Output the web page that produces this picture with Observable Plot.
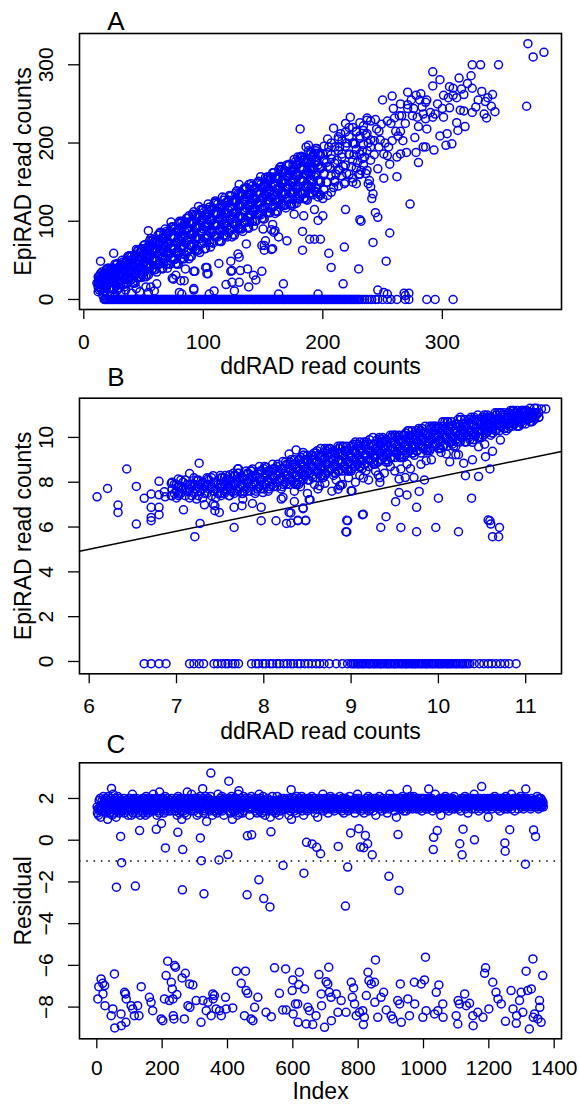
<!DOCTYPE html>
<html><head><meta charset="utf-8">
<script src="https://cdn.jsdelivr.net/npm/d3@7"></script>
<script src="https://cdn.jsdelivr.net/npm/@observablehq/plot@0.6"></script>
<style>
body{margin:0;background:#fff;}
#chart{width:579px;background:#fff;}
#chart svg{display:block;overflow:visible;}
</style></head><body><div id="chart"></div>
<script>
// ---------------- Panel A: raw read counts ----------------
// dense core of the band: [ddRAD count, [EpiRAD counts at that ddRAD count]]
const denseA = [
[12,[10,16,22,29]],[15,[13,21,28,35]],[18,[10,17,25,33]],[21,[14,23,31,40]],[24,[14,22,31,40]],[27,[18,27,36,44]],
[30,[15,23,32,41]],[33,[19,29,38,48]],[36,[20,29,40,50]],[39,[25,36,46,56]],[42,[21,32,42,54]],[45,[28,40,50,62]],
[48,[28,39,51,64]],[51,[36,48,59,70]],[54,[31,43,54,67]],[57,[38,51,63,76]],[60,[38,50,63,76]],[63,[45,58,71,84]],
[66,[39,52,64,78]],[69,[45,60,73,87]],[72,[45,58,72,87]],[75,[51,66,80,93]],[78,[45,59,72,87]],[81,[52,67,81,97]],
[84,[52,66,82,97]],[87,[61,76,90,104]],[90,[55,69,83,99]],[93,[63,78,92,108]],[96,[63,77,93,108]],[99,[71,86,100,114]],
[102,[65,79,93,109]],[105,[73,88,102,118]],[108,[72,86,102,117]],[111,[81,96,110,124]],[114,[74,88,102,118]],[117,[82,97,111,127]],
[120,[80,94,110,125]],[123,[89,104,118,132]],[126,[82,96,110,126]],[129,[90,105,119,135]],[132,[90,104,120,135]],[135,[98,113,127,141]],
[138,[91,105,119,135]],[141,[100,115,129,145]],[144,[100,114,128,143]],[147,[109,123,136,149]],[150,[103,116,129,144]],[153,[111,126,139,154]],
[156,[111,125,139,154]],[159,[119,134,148,162]],[162,[112,126,140,156]],[165,[121,136,150,166]],[168,[120,134,150,165]],[171,[128,143,157,171]],
[174,[120,135,149,165]],[177,[129,145,160,176]],[180,[128,143,159,176]],[183,[136,152,167,182]],[186,[128,143,159,176]],[189,[136,153,168,185]],
[192,[134,150,167,185]],[195,[142,160,176,193]],[198,[133,150,167,185]],
[14,[14,20,27,33]],[17,[11,18,25,32]],[20,[19,27,34,40]],[23,[15,23,31,39]],[26,[20,28,37,45]],[29,[15,24,32,41]],
[32,[25,34,42,50]],[35,[20,30,38,47]],[38,[26,36,46,56]],[41,[21,31,42,52]],[44,[33,45,54,64]],[47,[29,40,50,60]],
[50,[35,46,58,69]],[53,[32,43,54,65]],[56,[44,57,67,78]],[59,[38,52,62,74]],[62,[45,57,70,82]],[65,[40,53,65,78]],
[68,[53,67,78,90]],[71,[46,60,72,85]],[74,[53,66,80,93]],[77,[46,60,73,87]],[80,[60,75,87,100]],[83,[52,68,80,94]],
[86,[61,75,90,104]],[89,[55,69,83,97]],[92,[71,86,99,112]],[95,[63,79,91,105]],[98,[72,86,101,115]],[101,[65,79,93,107]],
[104,[81,96,109,122]],[107,[73,89,101,115]],[110,[81,95,110,124]],[113,[75,89,103,117]],[116,[90,105,118,131]],[119,[82,97,110,124]],
[122,[89,103,119,133]],[125,[83,97,111,125]],[128,[98,113,126,139]],[131,[91,106,119,133]],[134,[99,113,128,142]],[137,[92,106,120,134]],
[140,[107,123,135,148]],[143,[100,116,128,142]],[146,[109,122,137,151]],[149,[104,117,130,143]],[152,[118,133,144,156]],[155,[111,126,138,152]],
[158,[120,133,148,162]],[161,[113,127,141,155]],[164,[128,144,156,169]],[167,[121,137,149,163]],[170,[129,143,158,172]],[173,[122,136,150,164]],
[176,[137,153,166,179]],[179,[129,145,158,173]],[182,[137,152,168,183]],[185,[130,145,160,175]],[188,[145,162,176,190]],[191,[136,153,167,182]],
[194,[143,159,177,193]],[197,[135,151,168,184]],
[13,[12,19,25,30]],[16,[18,26,32,9]],[19,[16,25,32,39]],[22,[15,24,32,39]],[25,[23,33,40,13]],[28,[20,30,38,46]],
[31,[20,29,38,45]],[34,[27,38,46,16]],[37,[26,37,46,55]],[40,[25,36,46,55]],[43,[34,47,56,21]],[46,[33,45,55,64]],
[49,[32,44,55,65]],[52,[43,56,66,29]],[55,[41,54,65,75]],[58,[40,53,65,76]],[61,[50,65,75,35]],[64,[48,62,74,85]],
[67,[46,60,72,84]],[70,[56,72,84,40]],[73,[53,68,81,92]],[76,[51,65,79,91]],[79,[62,78,90,45]],[82,[58,74,88,100]],
[85,[57,72,86,99]],[88,[70,87,99,52]],[91,[67,83,97,109]],[94,[65,80,94,107]],[97,[78,95,107,60]],[100,[74,90,104,116]],
[103,[73,88,102,115]],[106,[85,102,114,67]],[109,[81,97,111,123]],[112,[80,95,109,122]],[115,[92,109,121,74]],[118,[88,104,118,130]],
[121,[85,100,114,127]],[124,[98,115,127,80]],[127,[94,110,124,136]],[130,[92,107,121,134]],[133,[105,122,134,87]],[136,[101,117,131,143]],
[139,[99,114,128,141]],[142,[112,129,141,94]],[145,[109,124,137,149]],[148,[108,123,136,147]],[151,[119,135,147,103]],[154,[117,132,145,157]],
[157,[116,130,144,156]],[160,[128,145,157,110]],[163,[124,140,154,166]],[166,[123,138,152,165]],[169,[135,152,164,117]],[172,[131,147,161,173]],
[175,[128,144,159,172]],[178,[141,159,172,123]],[181,[137,154,169,182]],[184,[135,151,166,180]],[187,[147,165,179,127]],[190,[142,160,175,189]],
[193,[139,157,173,187]],[196,[152,172,187,131]],
[201,[140,160,178,196]],[204,[150,170,188]],[207,[137,158,180,200]],[210,[152,174,195]],[213,[145,166,190,208]],[216,[158,182,203]],
[219,[150,172,196,214]],[222,[160,186,208]],[225,[155,178,200,220]],[228,[168,192,214]],[231,[160,186,206,226]],[234,[172,198,222]],
[237,[165,190,212,232]],[240,[178,204,228]],
[16,[5]],[20,[8]],[22,[4]],[26,[6]],[28,[12]],[31,[9]],[35,[12]],[40,[8]],[44,[14]],[47,[10]]
];
// individually readable loci: [ddRAD, EpiRAD]
const pointsA = [
[371.6,327],[376,310],[385,316],[370.5,247],[325,300],[332,300],[347,300],[292,291],[298,281],[292,273],[306,272],[309,270],
[314,283],[324,286],[321,276],[316,269],[305,258],[309,261],[301,261],[333,266],[338,258],[336,253],[341,247],[335,237],
[337,232],[328,246],[325,239],[318,241],[315,242],[312,226],[319,221],[313,216],[308,199],[303,197],[304,212],[298,209],
[293,191],[301,233],[300,244],[294,237],[292,233],[287,255],[286,252],[282,263],[278,261],[271,265],[281,255],[274,255],
[271,249],[275,235],[279,233],[286,231],[290,239],[284,237],[258,260],[250,255],[259,244],[264,235],[266,235],[271,244],
[276,244],[280,221],[287,218],[286,195],[284,195],[278,188],[280,175],[277,207],[270,188],[273,122],[262,157],[265,186],
[262,182],[256,173],[254,184],[255,195],[258,203],[263,209],[265,215],[267,203],[247,195],[248,204],[251,186],[246,167],
[251,155],[242,135],[241,129],[240,144],[239,152],[238,148],[249,224],[245,218],[243,203],[240,195],[235,182],[236,161],
[232,165],[228,148],[231,209],[227,199],[223,233],[237,229],[234,216],[222,220],[215,212],[209,219],[204,205],[200,186],
[194,190],[188,197],[186,195],[181,218],[179,182],[184,178],[190,169],[195,178],[201,161],[206,169],[212,178],[216,186],
[220,161],[225,150],[218,148],[209,143],[204,133],[200,129],[195,137],[190,143],[184,129],[179,135],[193,115],[184,107],
[200,107],[196,101],[176,109],[176,122],[183,87],[189,77],[193,77],[198,77],[219,115],[231,102],[232,100],[244,111],
[246,105],[256,85],[242,73],[218,67],[205,59],[183,63],[207,41],[230,39],[253,49],[217,20],[196,7],[246,12],[251,9],
[254,7],[269,5],[272,8],[268,8],
[203,175],[207,185],[211,160],[214,195],[217,170],[222,185],[226,200],[229,175],[233,190],[236,210],[210,150],[214,165],
[220,200],[224,170],[228,215],[233,180],[238,200],[243,185],[247,215],[252,200],[257,225],[261,215],[203,150],[199,170],
[205,195],[213,205],[219,225],[226,185],[230,160],[244,230],[254,228],[260,232],[265,250],[269,225],[283,246],[296,250],
[306,245],[312,258],[318,262],[325,270],[330,255],[342,262],[344,240],
[14,49],[11,21],[25,59],[37,55],[54,88],[64,86],[73,99],[80,98],[88,107],[96,119],[110,126],[130,147],[138,147],[148,157],
[156,157],[165,170],[74,27],[85,39],[92,36],[81,24],[103,41],[103,33],[113,46],[123,49],[124,37],[131,37],[129,58],[137,39],
[142,31],[144,25],[138,16],[149,36],[152,75],[151,69],[151,63],[158,65],[160,88],[170,75],[92,14],[109,11],[105,7],[126,11],
[167,20],[163,7],[163,80],[157,89],[82,7],[59,11],[52,16],[61,20],[50,29],[80,9],[92,12],[119,19],[124,22],[130,22],[123,36],
[130,54],[136,71],[149,69],[157,64],[158,96],[159,86],[150,90],[93,36],[104,33],[102,41],[84,24],[75,26],[77,31],[56,16],[54,9]
];
// loci with zero EpiRAD reads: ddRAD counts
const zeroEpiA = [17,18,19,20,21,22,23,24,25,26,27,28,29,30,31,32,33,34,35,36,37,38,39,40,41,42,43,44,45,46,47,48,49,50,51,52,53,54,55,
56,57,58,59,60,61,62,63,64,65,66,67,68,69,70,71,72,73,74,75,76,77,78,79,80,81,82,83,84,85,86,87,88,89,90,91,92,93,94,95,96,97,98,99,
100,101,102,103,104,105,106,107,108,109,110,111,112,113,114,115,116,117,118,119,120,121,122,123,124,125,126,127,128,129,130,131,132,
133,134,135,136,137,138,139,140,141,142,143,144,145,146,147,148,149,150,151,152,153,154,155,156,157,158,159,160,161,162,163,164,165,
166,167,168,169,170,171,172,173,174,175,176,177,178,179,180,181,182,183,184,185,186,187,188,189,190,191,192,193,194,195,196,197,198,
199,200,201,202,203,204,205,206,207,208,209,210,211,212,213,214,215,216,217,218,219,220,221,222,223,224,225,226,227,228,229,230,231,
233,235,237,239,241,244,246,250,254,257,262,269,272,287,294,309];
const xTicksA = [0,100,200,300], yTicksA = [0,100,200,300];

// ---------------- Panel B: transformed counts ----------------
const denseB = [
[6.95,[7.4,7.7,8.0]],[7.00,[7.3,7.6,7.9]],[7.05,[7.5,7.8,8.1]],[7.10,[7.4,7.7,8.1]],[7.15,[7.3,7.6,7.9]],[7.20,[7.5,7.9,8.2]],
[7.25,[7.4,7.8,8.1]],[7.30,[7.3,7.7,8.0]],[7.35,[7.5,7.9,8.2]],[7.40,[7.4,7.8,8.2]],[7.45,[7.3,7.7,8.0]],[7.50,[7.5,7.9,8.3]],
[7.55,[7.5,7.9,8.2]],[7.60,[7.4,7.8,8.1]],[7.65,[7.6,8.0,8.4]],[7.70,[7.6,8.0,8.4]],[7.75,[7.5,7.9,8.2]],[7.80,[7.7,8.1,8.5]],
[7.85,[7.6,8.1,8.5]],[7.90,[7.5,8.0,8.3]],[7.95,[7.8,8.2,8.7]],[8.00,[7.7,8.2,8.6]],[8.05,[7.6,8.1,8.5]],[8.10,[7.9,8.3,8.8]],
[8.15,[7.8,8.3,8.7]],[8.20,[7.7,8.2,8.6]],[8.25,[8.0,8.5,8.9]],
[8.30,[7.9,8.2,8.6,8.9]],[8.35,[8.0,8.4,8.8,9.0]],[8.40,[7.9,8.2,8.6,9.0]],[8.45,[8.1,8.5,8.9,9.2]],[8.50,[8.1,8.5,8.9,9.2]],
[8.55,[8.3,8.7,9.0,9.2]],[8.60,[8.2,8.5,8.9,9.3]],[8.65,[8.3,8.7,9.1,9.5]],[8.70,[8.3,8.7,9.1,9.5]],[8.75,[8.5,8.9,9.3,9.5]],
[8.80,[8.3,8.7,9.0,9.4]],[8.85,[8.5,8.9,9.3,9.6]],[8.90,[8.5,8.9,9.2,9.6]],[8.95,[8.6,9.0,9.4,9.6]],[9.00,[8.5,8.8,9.2,9.6]],
[9.05,[8.7,9.0,9.4,9.8]],[9.10,[8.7,9.0,9.4,9.8]],[9.15,[8.8,9.2,9.6,9.8]],[9.20,[8.7,9.0,9.4,9.7]],[9.25,[8.9,9.2,9.6,10.0]],
[9.30,[8.9,9.2,9.6,9.9]],[9.35,[9.0,9.4,9.8,9.9]],[9.40,[8.9,9.2,9.6,9.9]],[9.45,[9.1,9.4,9.8,10.1]],[9.50,[9.1,9.4,9.8,10.1]],
[9.55,[9.2,9.6,9.9,10.1]],[9.60,[9.1,9.4,9.8,10.1]],[9.65,[9.3,9.6,10.0,10.3]],[9.70,[9.3,9.6,10.0,10.3]],[9.75,[9.4,9.8,10.1,10.3]],
[9.80,[9.3,9.6,9.9,10.3]],[9.85,[9.5,9.8,10.2,10.5]],[9.90,[9.4,9.8,10.1,10.5]],[9.95,[9.6,10.0,10.3,10.5]],[10.00,[9.5,9.8,10.1,10.5]],
[10.05,[9.6,10.0,10.3,10.7]],[10.10,[9.6,10.0,10.3,10.7]],[10.15,[9.8,10.1,10.5,10.7]],[10.20,[9.6,9.9,10.3,10.6]],[10.25,[9.8,10.2,10.5,10.9]],
[10.30,[9.8,10.2,10.5,10.8]],[10.35,[10.0,10.3,10.6,10.8]],[10.40,[9.9,10.1,10.5,10.8]],[10.45,[10.0,10.3,10.7,11.0]],[10.50,[10.0,10.3,10.6,10.9]],
[10.55,[10.2,10.5,10.8,10.9]],[10.60,[10.1,10.4,10.6,10.9]],[10.65,[10.3,10.5,10.8,11.1]],[10.70,[10.3,10.6,10.8,11.1]],[10.75,[10.4,10.7,10.9,11.1]],
[10.80,[10.4,10.6,10.8,11.1]],[10.85,[10.5,10.8,11.0,11.2]],[10.90,[10.5,10.8,11.0,11.2]],[10.95,[10.7,10.9,11.1,11.2]],[11.00,[10.6,10.8,11.0,11.2]],
[11.05,[10.7,10.9,11.1,11.3]],[11.10,[10.8,10.9,11.1,11.3]],[11.15,[10.9,11.1]],
[6.975,[7.5,7.9]],[7.025,[7.4,7.8]],[7.075,[7.7,8.0]],[7.125,[7.6,7.9]],[7.175,[7.4,7.8]],[7.225,[7.7,8.1]],[7.275,[7.6,7.9]],
[7.325,[7.5,7.8]],[7.375,[7.7,8.1]],[7.425,[7.6,8.0]],[7.475,[7.5,7.9]],[7.525,[7.8,8.2]],[7.575,[7.7,8.1]],[7.625,[7.6,7.9]],
[7.675,[7.9,8.3]],[7.725,[7.8,8.2]],[7.775,[7.6,8.1]],[7.825,[8.0,8.4]],[7.875,[7.9,8.3]],[7.925,[7.7,8.2]],[7.975,[8.1,8.5]],
[8.025,[7.9,8.4]],[8.075,[7.8,8.3]],[8.125,[8.2,8.6]],[8.175,[8.1,8.5]],[8.225,[7.9,8.4]],[8.275,[8.3,8.8]],
[8.325,[8.1,8.4,8.8]],[8.375,[7.9,8.3,8.6]],[8.425,[8.4,8.8,9.1]],[8.475,[8.3,8.6,9.0]],[8.525,[8.1,8.4,8.8]],[8.575,[8.6,9.0,9.3]],
[8.625,[8.4,8.8,9.2]],[8.675,[8.2,8.6,9.0]],[8.725,[8.8,9.2,9.5]],[8.775,[8.6,9.0,9.3]],[8.825,[8.4,8.7,9.1]],[8.875,[8.9,9.3,9.6]],
[8.925,[8.7,9.1,9.4]],[8.975,[8.5,8.9,9.2]],[9.025,[9.0,9.4,9.7]],[9.075,[8.8,9.2,9.6]],[9.125,[8.6,9.0,9.4]],[9.175,[9.2,9.5,9.8]],
[9.225,[9.0,9.3,9.7]],[9.275,[8.8,9.1,9.5]],[9.325,[9.3,9.7,10.0]],[9.375,[9.1,9.5,9.8]],[9.425,[8.9,9.3,9.6]],[9.475,[9.5,9.8,10.1]],
[9.525,[9.3,9.6,10.0]],[9.575,[9.1,9.4,9.8]],[9.625,[9.6,9.9,10.2]],[9.675,[9.4,9.8,10.1]],[9.725,[9.2,9.6,9.9]],[9.775,[9.7,10.1,10.4]],
[9.825,[9.5,9.9,10.2]],[9.875,[9.4,9.7,10.1]],[9.925,[9.9,10.2,10.5]],[9.975,[9.7,10.0,10.4]],[10.025,[9.5,9.8,10.2]],[10.075,[10.0,10.4,10.7]],
[10.125,[9.8,10.2,10.5]],[10.175,[9.6,10.0,10.3]],[10.225,[10.1,10.5,10.8]],[10.275,[10.0,10.3,10.6]],[10.325,[9.8,10.1,10.5]],[10.375,[10.3,10.6,10.9]],
[10.425,[10.1,10.4,10.8]],[10.475,[10.0,10.3,10.6]],[10.525,[10.4,10.7,11.0]],[10.575,[10.3,10.6,10.9]],[10.625,[10.2,10.4,10.7]],[10.675,[10.6,10.8,11.1]],
[10.725,[10.5,10.7,11.0]],[10.775,[10.3,10.6,10.8]],[10.825,[10.7,11.0,11.2]],[10.875,[10.6,10.9,11.1]],[10.925,[10.5,10.7,11.0]],[10.975,[10.9,11.1,11.2]],
[11.025,[10.8,11.0,11.1]],[11.075,[10.7,10.9,11.0]],[11.125,[11.0,11.1,11.3]],
[7.51,[7.4,7.8,8.2]],[7.56,[7.6,8.0,8.3]],[7.61,[7.4,7.7,8.1]],[7.66,[7.5,7.9,8.3]],[7.71,[7.7,8.1,8.4]],[7.76,[7.5,7.8,8.2]],
[7.81,[7.6,8.0,8.4]],[7.86,[7.8,8.2,8.5]],[7.91,[7.6,7.9,8.3]],[7.96,[7.7,8.1,8.5]],[8.01,[7.9,8.3,8.7]],[8.06,[7.7,8.0,8.5]],
[8.11,[7.8,8.2,8.6]],[8.16,[8.0,8.4,8.8]],[8.21,[7.8,8.1,8.6]],[8.26,[7.9,8.3,8.8]],[8.31,[8.1,8.5,9.0]],[8.36,[7.9,8.3,8.8]],
[8.41,[8.0,8.5,9.0]],[8.46,[8.3,8.7,9.2]],[8.51,[8.1,8.5,9.0]],[8.56,[8.2,8.7,9.2]],[8.61,[8.5,8.9,9.4]],[8.66,[8.3,8.7,9.2]],
[8.71,[8.4,8.8,9.4]],[8.76,[8.6,9.1,9.5]],[8.81,[8.4,8.8,9.3]],[8.86,[8.5,9.0,9.5]],[8.91,[8.7,9.2,9.6]],[8.96,[8.5,8.9,9.4]],
[9.01,[8.6,9.1,9.6]],[9.06,[8.9,9.3,9.7]],[9.11,[8.7,9.0,9.5]],[9.16,[8.8,9.2,9.7]],[9.21,[9.0,9.4,9.9]],[9.26,[8.8,9.2,9.7]],
[9.31,[8.9,9.4,9.8]],[9.36,[9.2,9.6,10.0]],[9.41,[9.0,9.3,9.8]],[9.46,[9.1,9.5,10.0]],[9.51,[9.3,9.7,10.1]],[9.56,[9.1,9.5,9.9]],
[9.61,[9.2,9.6,10.1]],[9.66,[9.5,9.9,10.3]],[9.71,[9.3,9.6,10.1]],[9.76,[9.4,9.8,10.2]],[9.81,[9.6,10.0,10.4]],[9.86,[9.4,9.8,10.2]],
[9.91,[9.5,9.9,10.4]],[9.96,[9.7,10.1,10.5]],[10.01,[9.5,9.9,10.4]],[10.06,[9.6,10.1,10.5]],[10.11,[9.9,10.3,10.7]],[10.16,[9.7,10.0,10.5]],
[10.21,[9.8,10.2,10.6]],[10.26,[10.0,10.4,10.8]],[10.31,[9.8,10.2,10.6]],[10.36,[9.9,10.3,10.8]],[10.41,[10.2,10.5,10.9]],[10.46,[10.0,10.3,10.7]],
[10.51,[10.1,10.5,10.9]],[10.56,[10.3,10.6,11.0]],[10.61,[10.2,10.5,10.8]],[10.66,[10.3,10.6,11.0]],[10.71,[10.5,10.8,11.1]],[10.76,[10.4,10.6,11.0]],
[10.81,[10.5,10.8,11.1]],[10.86,[10.6,10.9,11.2]],[10.91,[10.5,10.8,11.1]],[10.96,[10.6,10.9,11.2]],[11.01,[10.8,11.0,11.2]],[11.06,[10.7,10.9,11.1]]
];
const pointsB = [
[6.09,7.35],[6.21,7.72],[6.43,8.59],[6.33,6.98],[6.33,6.65],[6.54,7.81],[6.54,6.13],[6.63,7.28],[6.71,7.47],[6.71,6.88],[6.71,6.43],
[6.71,6.28],[6.80,8.04],[6.80,7.44],[6.80,6.88],[6.80,6.55],[6.94,7.95],[6.94,7.40],[7.02,8.14],[7.08,6.77],[7.15,8.39],[7.15,7.69],
[7.26,8.85],[7.27,6.16],[7.21,5.57],[7.32,6.99],[7.44,6.95],[7.44,6.73],[7.49,6.65],[7.66,5.98],[7.66,6.88],[7.75,6.95],[7.97,6.28],
[7.97,6.88],[8.14,6.28],[8.26,6.16],[8.20,7.25],[8.35,7.14],[8.39,6.28],[8.48,6.28],[8.45,6.85],[8.52,7.22],[8.29,6.65],[8.37,9.44],
[8.45,9.33],[7.71,8.6],[6.86,7.57],[6.87,7.35],[7.03,7.84],[7.03,7.47],[7.24,8.07],[7.36,8.14],[7.42,8.29],[7.61,8.33],[7.70,8.59],
[7.87,8.59],[8.03,8.66],[8.22,8.93],[8.29,9.26],[7.23,7.25],[7.42,7.02],[7.76,7.25],[7.87,7.05],[7.99,7.54],[8.22,7.32],
[8.85,7.69],[8.87,7.84],[9.00,7.62],[9.13,6.55],[8.96,6.28],[8.94,5.79],[9.34,5.98],[9.40,6.46],[9.57,5.98],[9.75,5.79],[9.51,7.13],
[9.55,7.54],[9.64,7.43],[9.75,6.88],[9.78,7.59],[9.84,8.10],[9.72,8.21],[9.62,8.21],[9.55,8.14],[9.57,8.59],[9.64,8.81],[10.00,7.29],
[9.97,5.98],[10.23,5.79],[10.38,7.29],[10.31,8.29],[10.46,8.25],[10.59,8.59],[10.57,6.31],[10.59,6.28],[10.60,6.13],[10.70,5.98],
[10.62,5.57],[10.69,5.57],[10.54,9.14],[10.62,9.38],[10.71,9.88],[10.29,8.85],[10.39,9.00],[10.13,8.91],[10.20,9.23],[10.23,9.23],
[10.09,9.26],[10.03,9.33],[9.86,8.96],[10.46,9.58],[10.53,9.70],[10.39,9.78],[8.68,8.21],[8.64,7.84],[9.14,8.19],[9.33,8.21],
[9.33,7.99],[9.31,8.32],[9.17,8.51],[11.15,10.89],[11.18,11.27],[11.23,11.27],[8.45,6.82],[8.48,6.30],[8.39,6.30],[8.53,7.22],
[8.31,6.63],[8.31,6.18],[8.88,7.86],[9.01,7.61],[8.95,6.30],[8.95,5.78],[9.14,6.57],
[8.35,7.6],[8.42,7.8],[8.50,7.5],[8.58,7.9],[8.62,7.7],[8.70,7.95],[8.78,7.6],[8.83,8.1],[8.90,7.9],[8.97,8.2],[9.05,8.0],
[9.10,8.3],[9.20,8.1],[9.28,8.5],[9.38,8.4],[9.45,8.7],[9.50,8.5],[9.68,8.6],[9.80,8.8],[9.92,9.0]
];
// loci with no EpiRAD reads (plotted just below zero): ddRAD value
const zeroEpiB = [6.63,6.71,6.80,6.88,7.15,7.20,7.26,7.31,7.43,7.47,7.52,7.56,7.59,7.64,7.67,7.71,7.86,7.91,7.94,7.99,8.02,8.07,8.10,
8.15,8.18,8.23,8.27,8.31,8.34,8.39,8.42,8.47,8.51,8.55,8.60,8.64,8.69,8.75,8.83,8.90,8.96,9.00,9.02,9.03,9.05,9.07,9.08,9.09,9.11,
9.13,9.14,9.16,9.18,9.20,9.21,9.22,9.24,9.26,9.27,9.29,9.31,9.33,9.34,9.35,9.37,9.39,9.41,9.42,9.44,9.45,9.47,9.49,9.50,9.51,9.53,
9.55,9.57,9.58,9.60,9.62,9.63,9.64,9.66,9.68,9.70,9.71,9.73,9.74,9.76,9.78,9.80,9.81,9.83,9.85,9.86,9.87,9.89,9.91,9.93,9.94,9.96,
9.98,10.00,10.01,10.03,10.04,10.06,10.08,10.10,10.11,10.13,10.14,10.16,10.18,10.20,10.21,10.23,10.25,10.27,10.28,10.30,10.32,
10.34,10.36,10.41,10.47,10.52,10.57,10.61,10.66,10.71,10.76,10.81,10.89];
const zeroLevelB = -0.1;
const fitIntercept = 0.167, fitSlope = 0.807;
const xTicksB = [6,7,8,9,10,11], yTicksB = [0,2,4,6,8,10];

// ---------------- Panel C: residuals by locus index ----------------
const residualSeries = [
1.6,1.3,1.8,1.5,1.2,1.7,1.9,1.4,1.6,2.0,1.5,1.1,1.8,1.6,1.4,1.9,1.7,1.3,1.5,2.1,
1.7,1.4,1.9,1.6,1.2,1.8,2.0,1.5,1.3,1.7,1.9,1.6,1.0,1.8,1.4,2.1,1.7,1.5,1.9,1.3,
1.8,1.6,2.0,1.4,1.7,1.9,1.2,1.6,1.8,2.2,1.5,1.7,1.3,1.9,1.6,2.0,1.4,1.8,1.1,1.7,
1.9,1.5,1.7,2.1,1.4,1.8,1.6,1.3,2.0,1.7,1.5,1.9,1.2,1.8,1.6,2.0,1.7,1.4,1.9,1.6,
1.5,1.8,2.0,1.3,1.7,1.9,1.6,0.9,1.8,2.1,1.4,1.7,1.9,1.5,1.8,1.2,1.6,2.0,1.7,1.5,
2.0,1.6,1.4,1.8,1.7,1.2,1.9,1.5,2.2,1.7,1.3,1.8,1.6,2.0,1.4,1.9,1.7,1.1,1.8,1.6,
1.7,2.0,1.5,1.3,1.9,1.6,1.8,1.4,2.1,1.7,1.5,1.9,1.2,1.8,1.6,1.0,1.9,1.7,1.4,2.0,
1.6,1.8,1.3,2.0,1.7,1.5,1.9,1.6,1.2,1.8,2.1,1.4,1.7,1.9,1.5,1.8,1.3,2.0,1.6,1.7,
1.9,1.4,1.7,1.6,2.0,1.3,1.8,1.5,1.9,1.7,1.1,1.8,2.2,1.6,1.4,1.9,1.7,1.5,2.0,1.6,
1.5,1.9,1.7,1.2,1.8,2.0,1.6,1.4,1.9,1.7,1.3,2.1,1.8,1.5,1.6,2.0,1.7,0.8,1.9,1.6,
1.8,1.6,2.0,1.5,1.3,1.9,1.7,1.4,2.1,1.6,1.8,1.2,1.9,1.7,1.5,2.0,1.6,1.4,1.8,1.7,
1.7,2.1,1.5,1.8,1.4,1.9,1.6,1.3,2.0,1.7,1.5,1.8,1.1,1.9,1.6,2.2,1.7,1.5,1.8,1.4,
1.6,1.9,1.4,2.0,1.7,1.2,1.8,1.6,2.1,1.5,1.9,1.7,1.3,1.8,2.0,1.6,1.4,1.9,1.7,1.0,
1.9,1.7,1.5,1.8,2.0,1.4,1.6,1.9,1.3,1.7,2.1,1.5,1.8,1.6,1.2,1.9,1.7,2.0,1.5,1.8,
1.7,1.5,2.0,1.6,1.3,1.9,1.8,1.4,1.7,2.2,1.6,1.5,1.9,1.1,1.8,1.7,2.0,1.4,1.6,1.9,
1.8,2.0,1.6,1.4,1.9,1.7,1.2,1.8,1.5,2.0,1.7,1.3,1.9,1.6,1.8,2.1,1.5,1.7,1.4,1.9,
1.6,1.8,1.9,1.5,1.7,2.0,1.3,1.8,1.6,1.9,1.4,1.7,2.1,1.5,1.8,0.9,1.9,1.6,2.0,1.7,
2.0,1.5,1.7,1.9,1.4,1.8,1.6,2.1,1.3,1.7,1.9,1.5,1.8,1.2,1.6,2.0,1.7,1.4,1.9,1.8,
1.7,1.9,1.4,1.6,2.0,1.8,1.5,1.3,1.9,1.7,2.2,1.6,1.4,1.8,1.7,1.1,1.9,2.0,1.5,1.6,
1.8,1.6,2.1,1.4,1.7,1.9,1.5,1.8,1.2,2.0,1.6,1.7,1.9,1.3,1.8,1.5,2.0,1.7,1.6,1.9,
1.5,1.7,1.9,1.6,2.0,1.4,1.8,1.7,1.3,1.9,1.6,2.1,1.5,1.8,1.0,1.7,1.9,1.6,1.4,2.0,
1.9,1.6,1.8,1.4,1.7,2.0,1.5,1.9,1.6,1.2,1.8,1.7,2.2,1.5,1.9,1.6,1.3,1.8,1.7,2.0,
1.6,2.0,1.7,1.5,1.9,1.3,1.8,1.6,2.1,1.4,1.7,1.9,1.6,1.8,1.2,2.0,1.5,1.7,1.9,1.6,
1.8,1.4,1.9,1.7,1.6,2.0,1.5,1.2,1.8,1.9,1.6,1.4,2.1,1.7,1.8,1.5,1.9,0.9,1.7,1.8,
1.7,1.9,1.5,2.0,1.6,1.8,1.4,1.9,1.7,1.3,2.0,1.6,1.8,1.5,1.9,1.7,2.2,1.4,1.6,1.8,
2.0,1.7,1.6,1.9,1.3,1.8,1.5,1.7,2.1,1.6,1.9,1.4,1.8,1.7,1.2,1.9,1.6,2.0,1.5,1.7,
1.6,1.8,2.0,1.5,1.7,1.9,1.4,1.8,1.6,2.0,1.1,1.7,1.9,1.5,1.8,1.6,2.1,1.4,1.7,1.9,
1.8,1.5,1.7,2.0,1.6,1.9,1.3,1.8,1.7,1.5,1.9,2.1,1.6,1.4,1.8,1.7,1.9,1.2,2.0,1.6,
1.9,1.7,1.4,1.8,2.0,1.6,1.7,1.5,1.9,1.3,1.8,1.6,2.0,1.7,1.5,1.9,1.8,1.4,1.6,2.2,
1.6,2.0,1.8,1.5,1.7,1.9,1.6,1.2,1.8,2.0,1.7,1.4,1.9,1.6,1.8,1.0,1.7,1.9,1.5,1.8,
1.7,1.5,1.9,1.8,1.4,2.0,1.6,1.7,1.9,1.3,1.8,2.1,1.6,1.5,1.9,1.7,1.8,1.4,2.0,1.6,
2.0,1.8,1.6,1.9,1.5,1.7,2.1,1.4,1.8,1.6,1.9,1.7,1.2,1.8,2.0,1.6,1.5,1.9,1.7,1.8,
1.8,1.6,1.9,1.4,2.0,1.7,1.5,1.8,1.9,1.6,1.3,2.0,1.7,1.8,1.5,1.9,1.6,2.1,1.4,1.7,
1.9,1.7,1.5,2.0,1.8,1.6,1.9,1.3,1.7,1.8,2.0,1.5,1.6,1.9,1.7,1.1,1.8,2.0,1.6,1.9,
1.7,1.9,1.6,1.8,1.4,2.0,1.7,1.9,1.5,1.8,1.6,2.2,1.7,1.4,1.9,1.8,1.6,2.0,1.5,1.7,
1.8,2.0,1.7,1.5,1.9,1.6,1.8,1.3,2.0,1.7,1.9,1.6,1.8,1.5,2.1,1.7,1.4,1.9,1.8,1.6,
1.6,1.8,2.0,1.7,1.5,1.9,1.4,1.8,1.7,2.0,1.6,1.9,1.2,1.8,1.7,1.9,1.5,2.0,1.6,1.8,
1.9,1.6,1.8,2.1,1.7,1.5,1.9,1.6,1.8,1.4,2.0,1.7,1.9,1.6,1.8,1.3,1.7,2.0,1.8,1.5,
1.7,2.0,1.6,1.8,1.9,1.5,1.7,2.0,1.4,1.8,1.6,1.9,1.7,2.1,1.5,1.8,1.6,1.9,1.0,1.7,
1.8,1.6,1.9,1.7,1.5,2.0,1.8,1.6,1.9,1.3,1.7,2.0,1.8,1.6,1.9,1.5,1.7,2.2,1.6,1.8,
2.0,1.7,1.8,1.5,1.9,1.6,2.0,1.7,1.4,1.8,1.9,1.6,1.7,2.0,1.5,1.8,1.9,1.3,1.7,1.9,
1.6,1.9,1.7,2.0,1.6,1.8,1.5,1.9,1.7,1.8,2.1,1.4,1.8,1.6,1.9,1.7,2.0,1.5,1.8,1.6,
1.8,1.7,2.0,1.6,1.9,1.4,1.8,1.7,2.0,1.6,1.5,1.9,1.8,1.2,1.7,2.0,1.6,1.9,1.7,1.8,
1.9,1.6,1.8,1.7,2.1,1.5,1.9,1.6,1.8,2.0,1.7,1.4,1.9,1.8,1.6,2.0,1.7,1.5,1.9,1.6,
1.7,1.9,1.5,1.8,1.6,2.0,1.7,1.9,1.3,1.8,1.6,2.0,1.7,1.9,1.5,1.8,2.2,1.6,1.7,1.9,
1.8,1.6,2.0,1.7,1.9,1.5,1.8,1.6,2.0,1.7,1.9,1.4,1.8,1.6,2.0,1.7,1.1,1.9,1.8,1.6,
1.9,1.7,1.6,2.0,1.8,1.5,1.9,1.7,1.8,1.6,2.0,1.9,1.5,1.7,1.8,2.1,1.6,1.9,1.7,1.4,
1.7,2.0,1.8,1.6,1.9,1.7,1.4,1.8,2.0,1.6,1.9,1.7,1.8,1.5,2.0,1.7,1.9,1.6,1.8,2.1,
1.6,1.8,1.9,1.7,2.0,1.5,1.8,1.6,1.9,2.1,1.7,1.8,1.3,1.9,1.6,2.0,1.8,1.7,1.5,1.9,
1.8,1.9,1.7,2.0,1.6,1.8,1.9,1.5,1.7,2.0,1.8,1.6,1.9,1.7,1.4,2.0,1.8,1.9,1.6,1.7,
2.0,1.7,1.9,1.6,1.8,2.1,1.5,1.9,1.7,1.8,1.6,2.0,1.9,1.7,1.5,1.8,2.0,1.6,1.9,1.8,
1.7,1.9,1.6,1.8,2.0,1.7,1.9,1.4,1.8,1.6,2.0,1.7,1.9,1.8,1.6,2.2,1.7,1.5,1.9,1.8,
1.9,1.6,1.8,2.0,1.7,1.5,1.9,1.8,1.6,2.0,1.7,1.9,1.2,1.8,1.7,2.0,1.6,1.9,1.8,1.7,
1.8,2.0,1.7,1.9,1.6,1.8,2.1,1.7,1.5,1.9,1.8,1.6,2.0,1.7,1.9,1.8,1.4,2.0,1.7,1.9,
1.6,1.8,2.0,1.7,1.9,1.5,1.8,1.7,2.0,1.6,1.9,1.8,1.7,2.1,1.5,1.8,1.9,1.6,1.7,2.0,
1.9,1.7,1.8,1.6,2.0,1.8,1.5,1.9,1.7,2.0,1.6,1.8,1.9,1.4,1.7,2.0,1.8,1.6,1.9,1.7,
1.7,2.0,1.6,1.9,1.8,1.7,2.1,1.5,1.8,1.9,1.7,1.6,2.0,1.8,1.9,1.3,1.7,1.8,2.0,1.6,
1.8,1.6,1.9,2.0,1.7,1.8,1.5,1.9,1.7,2.0,1.8,1.6,1.9,1.7,2.2,1.6,1.8,1.9,1.5,1.7,
2.0,1.8,1.7,1.9,1.6,2.0,1.8,1.7,1.4,1.9,1.8,2.0,1.6,1.7,1.9,1.8,1.5,2.0,1.7,1.9,
1.7,1.9,1.8,1.6,2.0,1.7,1.9,1.8,1.6,2.1,1.5,1.8,1.9,1.7,1.6,2.0,1.8,1.1,1.9,1.7,
1.8,1.7,2.0,1.9,1.6,1.8,1.7,2.0,1.5,1.9,1.8,1.6,2.0,1.7,1.9,1.8,1.6,2.1,1.7,1.8,
1.9,1.6,1.8,1.7,2.0,1.9,1.5,1.8,1.7,1.9,2.0,1.6,1.8,1.4,1.9,1.7,2.0,1.8,1.6,1.9,
1.7,2.0,1.9,1.6,1.8,1.7,2.0,1.5,1.9,1.8,1.7,2.1,1.6,1.9,1.8,1.7,1.5,2.0,1.8,1.6,
1.8,1.9,1.7,2.0,1.6,1.8,1.9,1.7,2.2,1.5,1.8,1.7,1.9,1.6,2.0,1.8,1.7,1.9,1.4,1.8,
2.0,1.7,1.8,1.6,1.9,2.0,1.7,1.8,1.5,1.9,1.7,2.0,1.8,1.6,1.9,1.7,2.1,1.6,1.8,1.9,
1.6,1.9,2.0,1.7,1.8,1.5,1.9,1.7,2.0,1.8,1.6,1.9,1.7,1.3,1.8,2.0,1.7,1.9,1.6,1.8,
1.9,1.7,1.6,2.0,1.8,1.9,1.7,1.5,1.9,1.8,2.0,1.6,1.7,1.9,1.8,1.6,2.0,1.7,1.9,1.8,
1.7,1.8,2.0,1.6,1.9,1.7,1.8,2.1,1.6,1.9,1.7,1.5,2.0,1.8,1.7,1.9,1.6,1.8,2.0,1.7,
1.8,1.6,1.9,1.7,2.0,1.8,1.6
];
// loci far from the band: [index, residual]
const offBand = [
[3,-7.61],[6,-7.02],[13,-6.65],[18,-6.86],[19,-7.37],[24,-6.97],[25,-7.93],[44,-8.41],[45,2.48],[49,-8.09],[54,-6.41],[55,-9.0],
[60,-2.25],[73,0.18],[74,-8.33],[75,-8.89],[76,-1.08],[85,-7.29],[88,-7.37],[89,-8.73],[90,-7.61],[105,-7.93],[110,-8.09],[115,-8.41],
[118,-2.2],[125,-7.93],[129,-8.41],[131,0.46],[136,-7.02],[161,-7.53],[166,-7.77],[171,-8.17],[182,0.52],[192,2.31],[197,-8.57],
[202,-8.65],[207,-7.61],[210,-0.37],[212,-6.49],[217,-5.80],[222,-7.69],[228,-6.81],[231,-7.13],[233,-7.61],[234,-8.41],[236,-8.57],
[238,-6.01],[241,-6.09],[245,-7.40],[248,0.38],[261,-6.6],[262,-2.38],[263,-0.45],[268,-8.57],[271,-6.38],[277,2.31],[279,-7.93],
[284,-6.89],[285,-8.01],[294,-6.94],[304,-7.69],[317,0.11],[319,-8.73],[320,-0.98],[324,2.47],[325,-7.69],[328,-2.57],[335,-8.17],
[340,-7.77],[349,3.22],[350,-8.41],[355,-7.37],[356,-7.61],[360,-7.45],[365,-8.09],[374,-0.95],[376,-8.17],[381,-8.41],[394,-7.53],
[396,-8.09],[401,-0.69],[404,2.83],[416,-8.04],[427,-6.28],[435,2.37],[442,-6.86],[452,-8.41],[455,-6.28],[457,-7.21],[460,-2.62],
[461,0.21],[462,-7.34],[472,-8.57],[474,0.26],[478,-8.65],[483,-8.01],[493,-7.53],[496,-1.90],[511,-2.8],[518,-8.25],[530,-3.2],
[533,0.4],[534,-8.46],[544,-6.12],[559,-7.34],[569,-8.14],[570,-1.21],[578,-6.17],[580,-8.14],[595,2.42],[598,-7.21],[600,-6.70],
[601,-8.33],[608,-7.85],[615,-7.85],[616,-8.73],[618,-6.92],[620,-6.33],[634,-1.58],[636,-7.13],[641,-8.81],[642,-0.1],[646,-8.01],
[651,-8.17],[659,-0.18],[661,-8.84],[671,-8.41],[673,-0.34],[680,-6.44],[685,-0.65],[687,-7.37],[688,-7.93],[697,-8.97],[702,-6.78],
[707,-6.89],[710,-6.09],[712,-7.29],[717,-7.53],[718,-8.65],[733,-7.37],[738,-8.25],[739,-0.30],[748,-7.69],[761,-3.16],[763,-8.25],
[768,-1.29],[777,0.35],[779,-6.81],[782,-7.53],[786,-7.08],[789,-7.85],[794,-8.41],[802,0.55],[804,-8.25],[807,-0.33],[814,-8.17],
[816,-8.84],[817,-0.36],[819,-8.49],[822,0.23],[825,-7.45],[829,-0.17],[830,-6.33],[833,-6.73],[840,-6.89],[843,-0.70],[850,-6.81],
[851,-7.77],[853,-5.74],[860,-8.49],[870,-7.53],[878,-7.29],[886,-8.14],[894,-1.73],[901,-8.41],[906,-8.57],[921,-7.69],[922,0.27],
[925,-2.41],[927,-7.85],[929,-6.89],[932,-8.73],[950,2.43],[952,-7.61],[957,-8.41],[972,-6.81],[973,-7.85],[993,-6.89],[998,-8.49],
[1003,-6.70],[1006,-5.61],[1008,-8.17],[1016,2.45],[1030,-0.45],[1031,0.14],[1034,-8.33],[1039,-7.29],[1042,0.46],[1044,-8.17],
[1047,-6.94],[1059,-7.85],[1060,-8.49],[1100,-8.41],[1105,-8.81],[1106,-7.69],[1110,-7.85],[1111,-0.17],[1118,-0.70],[1121,0.53],
[1126,-7.37],[1131,-7.93],[1141,-7.82],[1151,-8.41],[1152,-8.89],[1156,0.02],[1166,-8.25],[1178,2.57],[1182,-8.49],[1187,-6.38],
[1190,-6.12],[1200,-8.09],[1212,-6.81],[1222,-7.29],[1228,-7.61],[1238,-7.85],[1249,-0.13],[1250,-0.53],[1251,-8.68],[1264,0.5],
[1268,-7.21],[1274,-8.09],[1284,-8.78],[1285,-8.41],[1294,-7.69],[1299,-7.29],[1304,-8.25],[1312,-1.15],[1313,2.45],[1314,-6.28],
[1319,-7.21],[1324,-9.05],[1330,-7.13],[1335,-5.69],[1336,-8.49],[1337,0.49],[1340,-8.33],[1343,0.18],[1350,-8.57],[1355,-7.69],
[1356,-8.01],[1360,-8.73],[1365,-6.49]
];
const residualThreshold = -1;
const xTicksC = [0,200,400,600,800,1000,1200,1400], yTicksC = [-8,-6,-4,-2,0,2];

// ---------------- tables ----------------
const tableA = [
  ...denseA.flatMap(([x, ys]) => ys.map(y => ({x, y}))),
  ...pointsA.map(([x, y]) => ({x, y})),
  ...zeroEpiA.map(x => ({x, y: 0}))
];
const tableB = [
  ...denseB.flatMap(([x, ys]) => ys.map(y => ({x, y}))),
  ...pointsB.map(([x, y]) => ({x, y})),
  ...zeroEpiB.map(x => ({x, y: zeroLevelB}))
];
const offMap = new Map(offBand);
const tableC = residualSeries.map((r, i) => ({x: i + 1, y: offMap.has(i + 1) ? offMap.get(i + 1) : r}));

// ---------------- drawing ----------------
const FONT = "'Liberation Sans', Arial, Helvetica, sans-serif";
const BLUE = "#0000ff";
const fmt = d => (d < 0 ? "\u2212" : "") + Math.abs(d);

function panel({letter, letterDy, data, xDomain, yDomain, xTicks, yTicks, xLabel, yLabel, height, marginTop, marginBottom, extra, tickPad = 14.5, titleDy = 57.5}) {
  return Plot.plot({
    width: 579, height, marginLeft: 79, marginRight: 18, marginTop, marginBottom,
    style: {fontFamily: FONT, background: "transparent", overflow: "visible", color: "black"},
    x: {domain: xDomain}, y: {domain: yDomain},
    marks: [
      ...extra,
      Plot.dot(data, {x: "x", y: "y", r: 4, stroke: BLUE, strokeWidth: 1.5, fill: "none"}),
      Plot.frame({stroke: "black", strokeWidth: 1.6}),
      Plot.axisX({ticks: xTicks, tickFormat: fmt, tickSize: 10, tickPadding: tickPad, fontSize: 21, strokeWidth: 1.3, label: null}),
      Plot.axisY({ticks: yTicks, tickFormat: () => "", tickSize: 11, strokeWidth: 1.3, label: null}),
      Plot.text(yTicks, {y: d => d, frameAnchor: "left", dx: -33.7, rotate: -90, textAnchor: "middle", lineAnchor: "middle", fontSize: 21, text: fmt}),
      Plot.text([xLabel], {frameAnchor: "bottom", dy: titleDy, textAnchor: "middle", lineAnchor: "middle", fontSize: 23, text: d => d}),
      Plot.text([yLabel], {frameAnchor: "left", dx: -56.3, rotate: -90, textAnchor: "middle", lineAnchor: "middle", fontSize: 23, text: d => d}),
      Plot.text([letter], {frameAnchor: "top-left", dx: 36.3, dy: letterDy, textAnchor: "middle", lineAnchor: "middle", fontSize: 26, text: d => d})
    ]
  });
}

const chart = document.getElementById("chart");
chart.append(panel({
  letter: "A", letterDy: -12.2, data: tableA, xDomain: [-3.6, 399.7], yDomain: [-12.8, 340],
  xTicks: xTicksA, yTicks: yTicksA, xLabel: "ddRAD read counts", yLabel: "EpiRAD read counts",
  height: 372, marginTop: 33, marginBottom: 63, extra: []
}));
const xDomB = [5.889, 11.41];
chart.append(panel({
  letter: "B", letterDy: -21, data: tableB, xDomain: xDomB, yDomain: [-0.55, 11.75],
  xTicks: xTicksB, yTicks: yTicksB, xLabel: "ddRAD read counts", yLabel: "EpiRAD read counts",
  height: 365, marginTop: 25.7, marginBottom: 63.7,
  extra: [Plot.line(xDomB.map(x => ({x, y: fitIntercept + fitSlope * x})), {x: "x", y: "y", stroke: "black", strokeWidth: 1.5})]
}));
chart.append(panel({
  letter: "C", letterDy: -18.3, data: tableC, xDomain: [-53, 1422.4], yDomain: [-9.52, 3.71],
  xTicks: xTicksC, yTicks: yTicksC, xLabel: "Index", yLabel: "Residual",
  height: 367, marginTop: 25.3, marginBottom: 65.7, tickPad: 11.5, titleDy: 52.5,
  extra: [Plot.ruleY([residualThreshold], {stroke: "black", strokeWidth: 1.5, strokeDasharray: "1.5,5.8"})]
}));
</script></body></html>
